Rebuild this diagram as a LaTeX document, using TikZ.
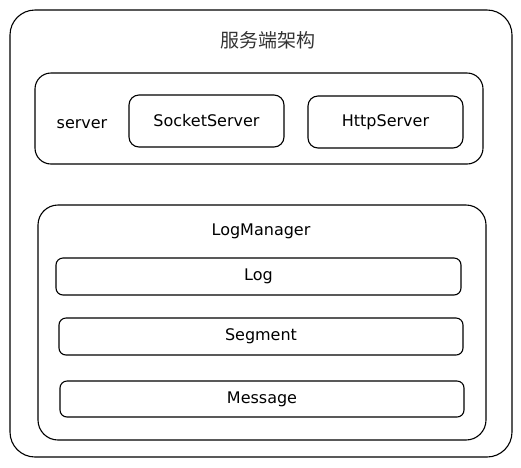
\documentclass[tikz,border=0pt]{standalone}
\usepackage{fontspec}
\setmainfont{DejaVu Sans}
\newfontfamily\cjk{Noto Sans CJK SC}
\begin{document}
\begin{tikzpicture}[x=1pt, y=-1pt, line width=1.1pt,
    box/.style = {draw, rounded corners=10pt, inner sep=0pt},
    txt/.style = {font=\fontsize{16}{19}\selectfont}]
    \useasboundingbox (0,0) rectangle (521,467);
    % outer frame and title
    \node[box, rounded corners=25pt, minimum width=502pt, minimum height=447pt] (frame) at (261,233.5) {};
    \node[font=\cjk\fontsize{19}{22}\selectfont, text=black!80] (title) at (268,40) {服务端架构};
    % server layer
    \node[box, rounded corners=16pt, minimum width=448pt, minimum height=91pt] (server) at (259,118.5) {};
    \node[txt] (srvlbl) at (82,124) {server};
    \node[box, txt, minimum width=155pt, minimum height=52pt] (socket) at (206.5,121) {SocketServer};
    \node[box, txt, minimum width=155pt, minimum height=52pt] (http) at (385.5,122) {HttpServer};
    % log layer
    \node[box, rounded corners=20pt, minimum width=448pt, minimum height=235pt] (logmgr) at (262,322.5) {};
    \node[txt] (mgrlbl) at (261,231) {LogManager};
    \node[box, txt, rounded corners=7pt, minimum width=405pt, minimum height=37pt] (log) at (258.5,276.5) {Log};
    \node[box, txt, rounded corners=7pt, minimum width=404pt, minimum height=37pt] (segment) at (261,336.5) {Segment};
    \node[box, txt, rounded corners=7pt, minimum width=404pt, minimum height=36pt] (message) at (262,399) {Message};
\end{tikzpicture}
\end{document}
